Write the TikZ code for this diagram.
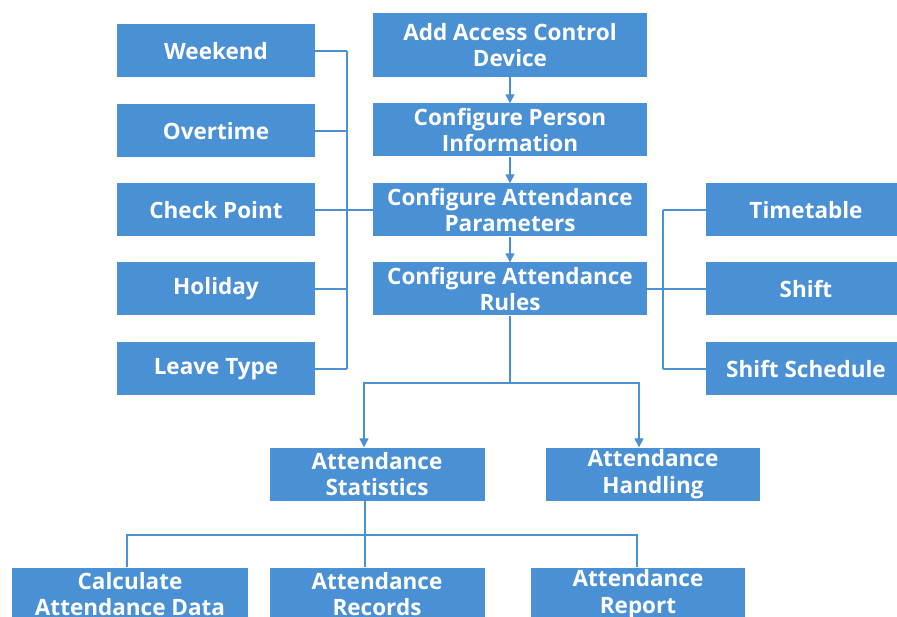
\documentclass[tikz,border=0pt]{standalone}
\usepackage{fontspec}
\setmainfont{Open Sans}
\usetikzlibrary{arrows.meta,calc}
\definecolor{boxblue}{RGB}{74,144,212}

\begin{document}
\begin{tikzpicture}[x=1pt,y=-1pt,
    box/.style={fill=boxblue, text=white, font=\bfseries\fontsize{22.5}{26.5}\selectfont, align=center, inner sep=0pt, minimum height=53pt},
    link/.style={draw=boxblue, line width=1.3pt},
    arr/.style={link, -{Triangle[width=9pt,length=9pt]}}]
    \useasboundingbox (0,0) rectangle (897,617);
    % left column
    \node[box, minimum width=198pt] (W) at (216,51) {Weekend};
    \node[box, minimum width=198pt] (O) at (216,131) {Overtime};
    \node[box, minimum width=198pt] (CP) at (216,210) {Check Point};
    \node[box, minimum width=198pt] (HO) at (216,289) {Holiday};
    \node[box, minimum width=198pt] (LT) at (216,369) {Leave Type};
    % main column
    \node[box, minimum width=274pt, minimum height=64pt] (ADD) at (510,45) {Add Access Control\\Device};
    \node[box, minimum width=274pt] (PER) at (510,130) {Configure Person\\Information};
    \node[box, minimum width=274pt] (PAR) at (510,210) {Configure Attendance\\Parameters};
    \node[box, minimum width=274pt] (RUL) at (510,289) {Configure Attendance\\Rules};
    % right column
    \node[box, minimum width=200pt] (TT) at (806,210) {Timetable};
    \node[box, minimum width=200pt] (SH) at (806,289) {Shift};
    \node[box, minimum width=200pt] (SS) at (806,369) {Shift Schedule};
    % results
    \node[box, minimum width=215pt] (STA) at (377,474) {Attendance\\Statistics};
    \node[box, minimum width=214pt] (HAN) at (653,474) {Attendance\\Handling};
    \node[box, minimum width=236pt] (CAL) at (130,594) {Calculate\\Attendance Data};
    \node[box, minimum width=215pt] (REC) at (377,594) {Attendance\\Records};
    \node[box, minimum width=214pt] (REP) at (638,594) {Attendance\\Report};
    % bus lines
    \coordinate (LB) at (347,0); \coordinate (RB) at (663,0);
    \coordinate (S1) at (510,383); \coordinate (S2) at (365,535);
    \foreach \p in {W,O,HO,LT} {\draw[link] (\p.east) -- (\p.east -| LB);}
    \draw[link] (W.east -| LB) -- (LT.east -| LB);
    \draw[link] (CP.east) -- (PAR.west);
    \foreach \p in {TT,SS} {\draw[link] (\p.west) -- (\p.west -| RB);}
    \draw[link] (TT.west -| RB) -- (SS.west -| RB);
    \draw[link] (RUL.east) -- (SH.west);
    \draw[arr] (ADD) -- (PER); \draw[arr] (PER) -- (PAR); \draw[arr] (PAR) -- (RUL);
    \draw[link] (RUL.south) -- (S1);
    \draw[arr] (S1) -| ([xshift=-13pt]STA.north);
    \draw[arr] (S1) -| ([xshift=-14pt]HAN.north);
    \draw[link] ([xshift=-12pt]STA.south) -- (S2);
    \draw[link] (S2) -| ([xshift=-3pt]CAL.north);
    \draw[link] (S2) -| ([xshift=-1pt]REP.north);
    \draw[link] (S2) -- ([xshift=-12pt]REC.north);
\end{tikzpicture}
\end{document}
